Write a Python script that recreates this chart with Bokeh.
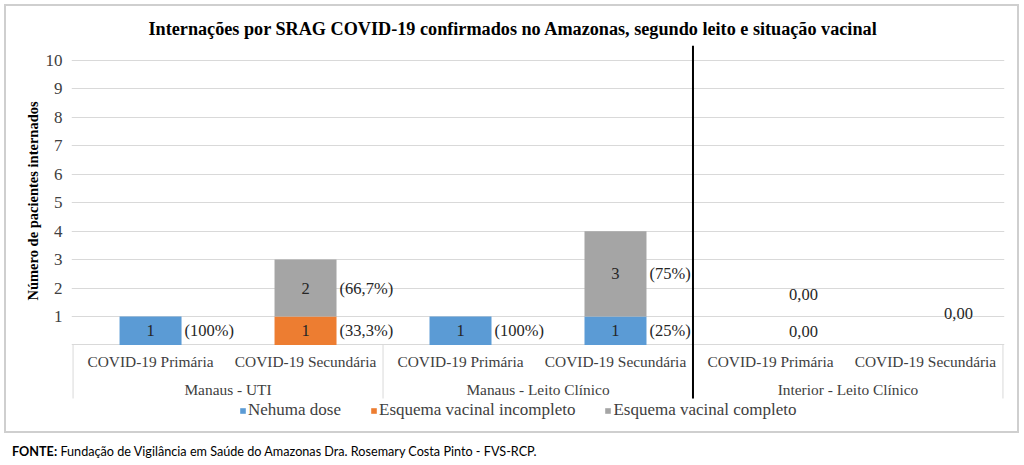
import math
from bokeh.plotting import figure
from bokeh.layouts import column
from bokeh.models import (FactorRange, ColumnDataSource, FixedTicker, Range1d, Title, Div)
from bokeh.core.properties import value
from bokeh.embed import file_html
from bokeh.resources import INLINE

# ---------------- data ----------------
groups = ["Manaus - UTI", "Manaus - Leito Clínico", "Interior - Leito Clínico"]
subgroups = ["COVID-19 Primária", "COVID-19 Secundária"]
nenhuma_dose = [1, 0, 1, 1, 0, 0]
esquema_incompleto = [0, 1, 0, 0, 0, 0]
esquema_completo = [0, 2, 0, 3, 0, 0]
series_names = ["Nehuma dose", "Esquema vacinal incompleto", "Esquema vacinal completo"]
series_colors = ["#5B9BD5", "#ED7D31", "#A5A5A5"]
y_ticks = [1, 2, 3, 4, 5, 6, 7, 8, 9, 10]
grid_ticks = [0, 1, 2, 3, 4, 5, 6, 7, 8, 9, 10]
# stray "0,00" labels shown for the Interior group (category index, value-axis position)
zero_label_cats = [4, 4, 5]
zero_label_y = [1.77, 0.47, 1.10]
zero_label_text = ["0,00", "0,00", "0,00"]
title_text = "Internações por SRAG COVID-19 confirmados no Amazonas, segundo leito e situação vacinal"
y_label = "Número de pacientes internados"
source_bold = "FONTE:"
source_text = "Fundação de Vigilância em Saúde do Amazonas Dra. Rosemary Costa Pinto - FVS-RCP."

# ---------------- layout (page pixel coordinates) ----------------
BOX_X, BOX_Y, BORDER = 4, 4, 2
OX, OY = BOX_X + BORDER, BOX_Y + BORDER      # canvas origin on the page
W, H = 1015, 429
PAGE_FRAME_LEFT, PAGE_FRAME_RIGHT = 71, 1004
PAGE_FRAME_TOP, PAGE_FRAME_BOTTOM = 45, 425
B_LEFT = PAGE_FRAME_LEFT - OX
B_RIGHT = OX + W - PAGE_FRAME_RIGHT
B_TOP = PAGE_FRAME_TOP - OY
B_BOTTOM = OY + H - PAGE_FRAME_BOTTOM
XPAD = 0.01
frame_w = PAGE_FRAME_RIGHT - PAGE_FRAME_LEFT
frame_h = PAGE_FRAME_BOTTOM - PAGE_FRAME_TOP
ntot = len(groups) * len(subgroups)
ppu_x = frame_w / (ntot + 2 * XPAD)
PAGE_Y0 = 344.4
ppu_y = 28.44
y_top = (PAGE_Y0 - PAGE_FRAME_TOP) / ppu_y
y_bot = y_top - frame_h / ppu_y


def py(page_y):
    return (PAGE_Y0 - page_y) / ppu_y


SERIF = value("Liberation Serif")
TXT = "#404040"
DARK = "#262626"

factors = [(g, s) for g in groups for s in subgroups]
x_range = FactorRange(*factors, group_padding=0, factor_padding=0,
                      range_padding=XPAD, range_padding_units="absolute")

p = figure(width=W, height=H, x_range=x_range, y_range=Range1d(y_bot, y_top),
           output_backend="svg", toolbar_location=None, x_axis_location=None,
           min_border_left=B_LEFT, min_border_right=B_RIGHT,
           min_border_top=B_TOP, min_border_bottom=B_BOTTOM,
           background_fill_color="white", border_fill_color="white",
           margin=(BOX_Y, 0, 0, BOX_X),
           styles={"border": f"{BORDER}px solid #cfcfcf"})
p.outline_line_color = None
p.xgrid.visible = False

# title
p.title.text = title_text
p.title.text_font = "Liberation Serif"
p.title.text_font_size = "18.2px"
p.title.text_font_style = "bold"
p.title.text_color = "black"
p.title.align = "left"
p.title.offset = 148 - PAGE_FRAME_LEFT
p.title.standoff = 14

# y axis
p.yaxis.ticker = FixedTicker(ticks=y_ticks)
p.yaxis.axis_line_color = None
p.yaxis.major_tick_line_color = None
p.yaxis.major_tick_out = 0
p.yaxis.major_tick_in = 0
p.yaxis.minor_tick_line_color = None
p.yaxis.minor_tick_out = 0
p.yaxis.major_label_text_font = "Liberation Serif"
p.yaxis.major_label_text_font_size = "17px"
p.yaxis.major_label_text_color = TXT
p.yaxis.major_label_standoff = 9
p.ygrid.ticker = FixedTicker(ticks=grid_ticks)
p.ygrid.grid_line_color = "#d9d9d9"
p.ygrid.grid_line_width = 1

# y axis title (left side)
p.add_layout(Title(text=y_label, text_font="Liberation Serif", text_font_size="14.5px",
                   text_font_style="bold", text_color="black", align="left",
                   offset=PAGE_FRAME_BOTTOM - 300, standoff=3), "left")

# bars
src = ColumnDataSource(dict(x=factors, n=nenhuma_dose, i=esquema_incompleto, c=esquema_completo))
p.vbar_stack(["n", "i", "c"], x="x", width=0.4, source=src,
             fill_color=series_colors, line_color=None, legend_label=series_names)

# category axis box drawn as lines and text
nsub = len(subgroups)
bx = [float(k * nsub) for k in range(len(groups) + 1)]
p.segment(x0=bx, y0=[0] * len(bx), x1=bx, y1=[py(398)] * len(bx),
          line_color="#d9d9d9", line_width=1)
p.text(x=factors, y=[py(361)] * len(factors), text=[s for g, s in factors],
       text_font=SERIF, text_font_size="15.4px", text_color=TXT,
       text_align="center", text_baseline="middle")
p.text(x=groups, y=[py(389)] * len(groups), text=groups,
       text_font=SERIF, text_font_size="15.4px", text_color=TXT,
       text_align="center", text_baseline="middle")

# thick separator between Manaus and Interior
sep_x = float(2 * nsub)
p.segment(x0=[sep_x], y0=[py(398)], x1=[sep_x], y1=[y_top],
          line_color="black", line_width=2)

# data labels
series = [nenhuma_dose, esquema_incompleto, esquema_completo]
totals = [sum(v) for v in zip(*series)]
lx, ly, lt, pt = [], [], [], []
for k in range(len(factors)):
    bottom = 0
    for s in series:
        v = s[k]
        if v > 0:
            lx.append(factors[k])
            ly.append(bottom + v / 2)
            lt.append(str(v))
            pct = v / totals[k] * 100
            t = f"{pct:.1f}".rstrip("0").rstrip(".").replace(".", ",")
            pt.append(f"({t}%)")
        bottom += v
lab = ColumnDataSource(dict(x=lx, y=ly, t=lt, p=pt))
p.text(x="x", y="y", text="t", source=lab, text_font=SERIF, text_font_size="16.5px",
       text_color=DARK, text_align="center", text_baseline="middle")
p.text(x="x", y="y", text="p", source=lab, text_font=SERIF, text_font_size="16.5px",
       text_color=DARK, text_align="left", text_baseline="middle",
       x_offset=0.2 * ppu_x + 3)
p.text(x=[factors[k] for k in zero_label_cats], y=zero_label_y, text=zero_label_text,
       text_font=SERIF, text_font_size="16.5px", text_color=DARK,
       text_align="center", text_baseline="middle", x_offset=33)

# legend
lg = p.legend[0]
lg.orientation = "horizontal"
lg.location = (239 - PAGE_FRAME_LEFT, 5)
lg.padding = 0
lg.margin = 0
lg.spacing = 29
lg.border_line_color = None
lg.background_fill_alpha = 0
lg.glyph_width = 7
lg.glyph_height = 7
lg.label_standoff = 2
lg.label_text_font = "Liberation Serif"
lg.label_text_font_size = "17px"
lg.label_text_color = TXT

footer = Div(text=f"<b>{source_bold}</b> {source_text}", width=1000, height=20,
             styles={"font-family": "Lato", "font-size": "12.65px", "color": "black",
                     "padding-left": "7px", "margin-top": "11px", "line-height": "16px"})

layout = column(p, footer, spacing=0)
open("out.html", "w").write(file_html(layout, INLINE))
